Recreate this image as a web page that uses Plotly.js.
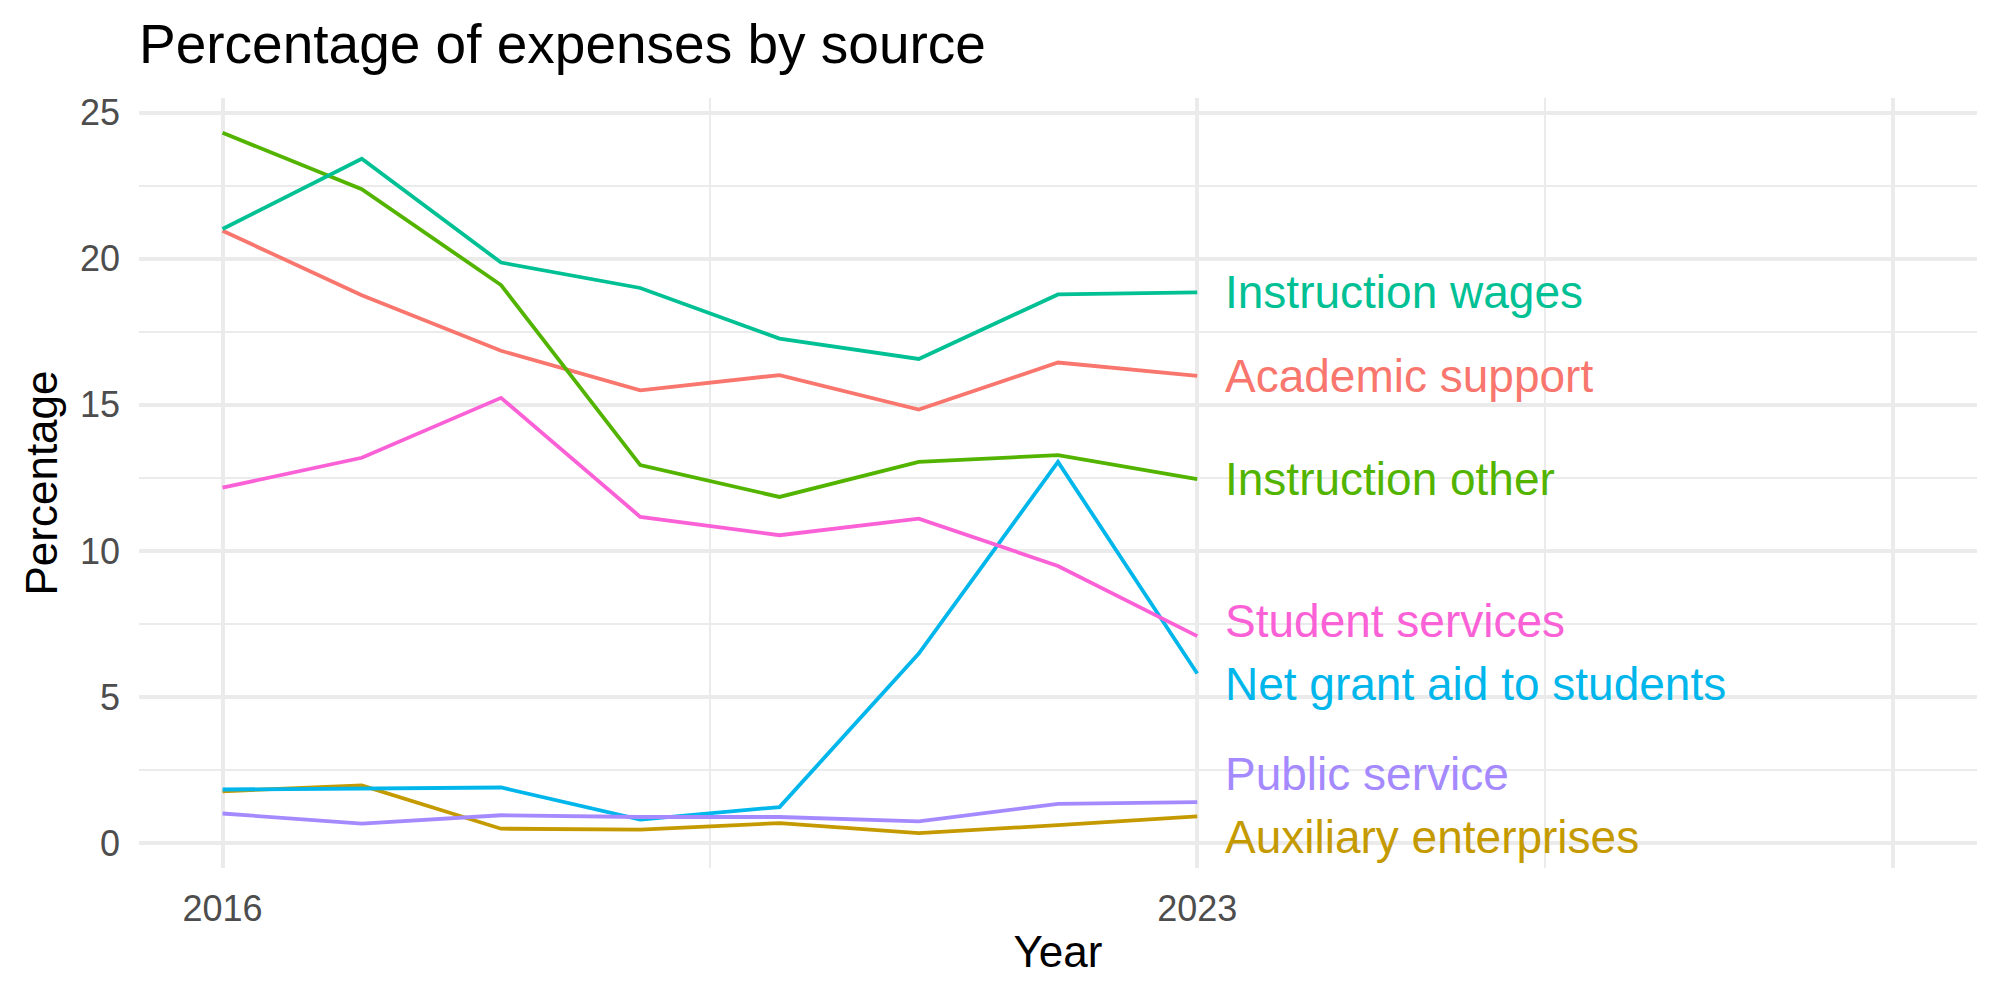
<!DOCTYPE html>
<html>
<head>
<meta charset="utf-8">
<script src="https://cdn.plot.ly/plotly-3.0.1.min.js"></script>
<style>
  html, body { margin: 0; padding: 0; background: #ffffff; }
  #chart { width: 2000px; height: 1000px; }
</style>
</head>
<body>
<div id="chart"></div>
<script>
// Years covered by the expense breakdown
const years = [2016, 2017, 2018, 2019, 2020, 2021, 2022, 2023];

// Share of total expenses (%) per source, one array per series
const academicSupport      = [20.96, 18.75, 16.85, 15.50, 16.02, 14.84, 16.45, 15.99];
const auxiliaryEnterprises = [1.78, 1.98, 0.50, 0.47, 0.69, 0.35, 0.62, 0.92];
const instructionOther     = [24.31, 22.38, 19.10, 12.94, 11.85, 13.05, 13.28, 12.46];
const instructionWages     = [21.02, 23.42, 19.87, 19.00, 17.27, 16.57, 18.78, 18.85];
const netGrantAid          = [1.84, 1.86, 1.91, 0.81, 1.24, 6.49, 13.05, 5.81];
const publicService        = [1.02, 0.67, 0.96, 0.90, 0.90, 0.75, 1.35, 1.41];
const studentServices      = [12.17, 13.19, 15.24, 11.17, 10.54, 11.11, 9.49, 7.09];

// Series names, in drawing order
const sources = [
  "Academic support",
  "Auxiliary enterprises",
  "Instruction other",
  "Instruction wages",
  "Net grant aid to students",
  "Public service",
  "Student services"
];
const seriesValues = [
  academicSupport, auxiliaryEnterprises, instructionOther, instructionWages,
  netGrantAid, publicService, studentServices
];

// Vertical placement of the end-of-line labels, nudged apart where they would collide
const labelY = [15.99, 0.20, 12.46, 18.85, 5.46, 2.37, 7.61];

// Tick labels on the year axis (last break is unlabelled)
const yearTickVals = [2016, 2023, 2028];
const yearTickText = ["2016", "2023", ""];

const palette = ["#F8766D", "#C49A00", "#53B400", "#00C094", "#00B6EB", "#A58AFF", "#FB61D7"];
const FONT = "'Liberation Sans', Arial, Helvetica, sans-serif";
const GRID = "#EBEBEB";

const traces = sources.map((name, i) => ({
  type: "scatter",
  mode: "lines",
  name: name,
  x: years,
  y: seriesValues[i],
  line: { color: palette[i], width: 3.8 },
  hoverinfo: "skip",
  showlegend: false
}));

const lastYear = years[years.length - 1];
const annotations = sources.map((name, i) => ({
  x: lastYear,
  y: labelY[i],
  xref: "x",
  yref: "y",
  text: name,
  showarrow: false,
  xanchor: "left",
  yanchor: "middle",
  xshift: 26,
  font: { family: FONT, size: 46, color: palette[i] }
}));

const layout = {
  width: 2000,
  height: 1000,
  paper_bgcolor: "#ffffff",
  plot_bgcolor: "#ffffff",
  margin: { l: 139, r: 23, t: 98, b: 132 },
  showlegend: false,
  hovermode: false,
  font: { family: FONT, color: "#000000" },
  title: {
    text: "Percentage of expenses by source",
    font: { family: FONT, size: 55, color: "#000000" },
    xref: "paper",
    x: 0,
    xanchor: "left",
    yref: "container",
    y: 0.956,
    yanchor: "middle"
  },
  xaxis: {
    range: [2015.4, 2028.6],
    tickmode: "array",
    tickvals: yearTickVals,
    ticktext: yearTickText,
    showgrid: true,
    gridcolor: GRID,
    gridwidth: 4,
    zeroline: false,
    showline: false,
    ticks: "",
    ticklabelstandoff: 16,
    tickfont: { family: FONT, size: 36, color: "#4D4D4D" },
    minor: {
      tickmode: "array",
      tickvals: [2019.5, 2025.5],
      showgrid: true,
      gridcolor: GRID,
      gridwidth: 2
    },
    title: {
      text: "Year",
      font: { family: FONT, size: 44, color: "#000000" },
      standoff: 8
    }
  },
  yaxis: {
    range: [-0.845, 25.5],
    tickmode: "linear",
    tick0: 0,
    dtick: 5,
    showgrid: true,
    gridcolor: GRID,
    gridwidth: 4,
    zeroline: false,
    showline: false,
    ticks: "",
    ticklabelstandoff: 18,
    tickfont: { family: FONT, size: 36, color: "#4D4D4D" },
    minor: {
      tick0: 0,
      dtick: 2.5,
      showgrid: true,
      gridcolor: GRID,
      gridwidth: 2
    },
    title: {
      text: "Percentage",
      font: { family: FONT, size: 44, color: "#000000" },
      standoff: 8
    }
  },
  annotations: annotations
};

Plotly.newPlot("chart", traces, layout, { staticPlot: true, displayModeBar: false });
</script>
</body>
</html>
